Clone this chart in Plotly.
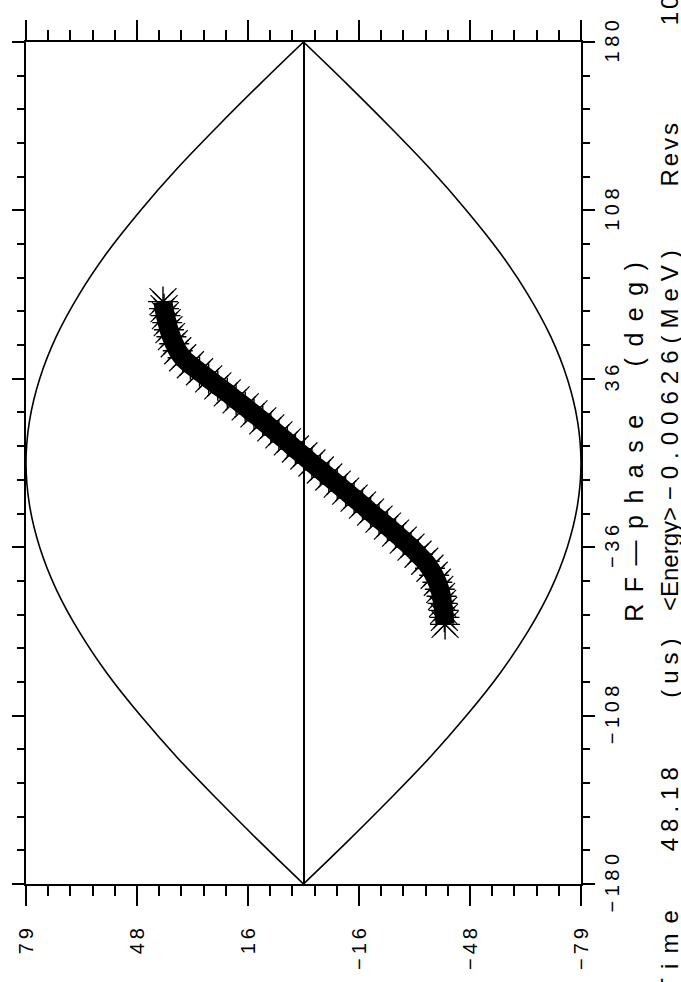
import plotly.graph_objects as go

# ---------------- data ----------------
# separatrix: RF phase (deg) vs energy half-height
sep_phase = [-180, -162, -144, -126, -108, -90, -72, -54, -36, -18, 0,
             18, 36, 54, 72, 90, 108, 126, 144, 162, 180]
sep_energy = [0, 12.4, 24.4, 35.9, 46.4, 55.9, 63.9, 70.4, 75.1, 78.0, 79.0,
              78.0, 75.1, 70.4, 63.9, 55.9, 46.4, 35.9, 24.4, 12.4, 0]

# beam band centre line (phase, energy)
beam_phase = [69, 66, 63, 60, 57, 54, 51, 48, 45, 42, 39, 36, 33, 30, 27, 24, 21, 18,
              15, 12, 9, 6, 3, 0, -3, -6, -9, -12, -15, -18, -21, -24, -27, -30,
              -33, -36, -39, -42, -45, -48, -51, -54, -57, -60, -63, -66, -69]
beam_energy = [40.0, 39.7, 39.3, 38.8, 38.3, 37.6, 36.8, 35.8, 34.4, 32.2, 29.6,
               27.0, 24.4, 21.7, 19.2, 16.6, 14.1, 11.6, 9.3, 7.0, 4.6, 2.3, -0.1,
               -2.4, -4.8, -7.2, -9.6, -12.0, -14.4, -16.8, -19.1, -21.5, -23.9,
               -26.2, -28.4, -30.6, -32.6, -34.5, -36.0, -37.2, -38.1, -38.8,
               -39.3, -39.6, -39.9, -40.1, -40.3]

energy_tickvals = [79, 47.4, 15.8, -15.8, -47.4, -79]
energy_ticktext = ["79", "48", "16", "\u221216", "\u221248", "\u221279"]
phase_tickvals = [-180, -108, -36, 36, 108, 180]
phase_ticktext = ["\u2212180", "\u2212108", "\u221236", "36", "108", "180"]

FONT = "Liberation Sans"

def spaced(t, s):
    return f"<span style='letter-spacing:{s}px'>{t}</span>"

fig = go.Figure()

neg_energy = [-e for e in sep_energy]
for e in (sep_energy, neg_energy):
    fig.add_trace(go.Scatter(x=e, y=sep_phase, mode="lines",
                             line=dict(color="black", width=1.6, shape="spline"),
                             hoverinfo="skip"))

fig.add_trace(go.Scatter(x=beam_energy, y=beam_phase, mode="lines",
                         line=dict(color="black", width=19, shape="spline"),
                         hoverinfo="skip"))
fig.add_trace(go.Scatter(x=beam_energy, y=beam_phase, mode="markers",
                         marker=dict(symbol="asterisk", size=25, color="black",
                                     line=dict(color="black", width=1.4)),
                         hoverinfo="skip"))
fig.add_trace(go.Scatter(x=beam_energy, y=beam_phase, mode="markers",
                         marker=dict(symbol="x-thin", size=27, color="black",
                                     line=dict(color="black", width=1.2)),
                         hoverinfo="skip"))

axis_common = dict(showline=True, linecolor="black", linewidth=2, mirror="ticks",
                   ticks="outside", tickwidth=2, tickcolor="black",
                   showgrid=False, tickangle=-90,
                   tickfont=dict(family=FONT, size=20, color="black"))

fig.update_xaxes(range=[79, -79], tickmode="array", tickvals=energy_tickvals,
                 ticktext=[spaced(t, 4) for t in energy_ticktext], ticklen=20,
                 ticklabelstandoff=10,
                 zeroline=True, zerolinecolor="black", zerolinewidth=1.6,
                 minor=dict(ticks="outside", ticklen=10, tickwidth=2, tickcolor="black",
                            tickmode="linear", tick0=-79, dtick=6.32, showgrid=False),
                 **axis_common)
fig.update_yaxes(range=[-180, 180], side="right", tickmode="array",
                 tickvals=phase_tickvals,
                 ticktext=[spaced(t, 4.5) for t in phase_ticktext], ticklen=12,
                 zeroline=False,
                 minor=dict(ticks="outside", ticklen=7, tickwidth=2, tickcolor="black",
                            tickmode="linear", tick0=-180, dtick=14.4, showgrid=False),
                 **axis_common)

L, R, T, B = 18, 581, 42, 885
def px(x):
    return (x - L) / (R - L)
def py(y):
    return (B - y) / (B - T)

def ann(text, x, y, size=24, xanchor="center", yanchor="middle"):
    fig.add_annotation(text=text, x=px(x), y=py(y), xref="paper", yref="paper",
                       showarrow=False, textangle=-90, xanchor=xanchor, yanchor=yanchor,
                       font=dict(family=FONT, size=size, color="black"))

ann(spaced("RF\u2014phase\u00a0\u00a0(deg)", 11.5), 634, 437, size=25)
ann("&lt;Energy&gt; " + spaced("\u22120.00626(MeV)", 7), 671, 614, yanchor="bottom")
ann(spaced("Revs", 3), 671, 153)
ann(spaced("10", 3), 671, 27, yanchor="bottom")
ann(spaced("48.18\u00a0\u00a0\u00a0\u00a0\u00a0(us)", 6), 671, 854, yanchor="bottom")
ann(spaced("Time", 10), 671, 900, yanchor="top")

fig.update_layout(width=681, height=982, margin=dict(l=L, r=681 - R, t=T, b=982 - B),
                  paper_bgcolor="white", plot_bgcolor="white", showlegend=False)

fig.write_html("out.html")
